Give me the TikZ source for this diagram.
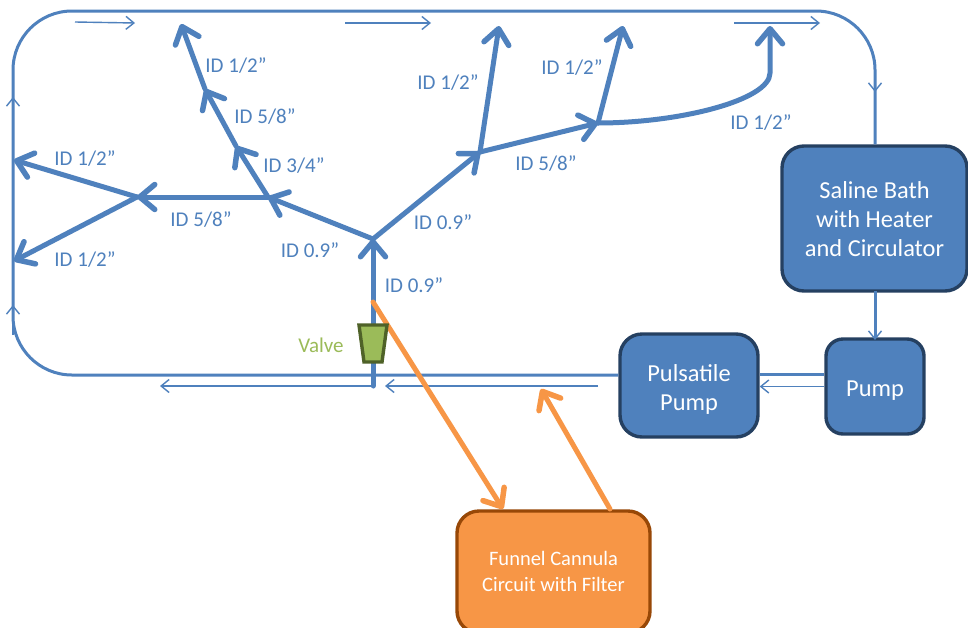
\documentclass[tikz,border=0pt]{standalone}
\usepackage{fontspec}
\setmainfont{Carlito}
\usetikzlibrary{arrows.meta}
\definecolor{flow}{HTML}{4F81BD}
\definecolor{edge}{HTML}{254061}
\definecolor{orng}{HTML}{F79646}
\definecolor{orngdark}{HTML}{984807}
\definecolor{vfill}{HTML}{9BBB59}
\definecolor{vedge}{HTML}{4F6228}
\tikzset{
  pipe/.style={draw=flow,line width=5pt,line cap=round,-{Straight Barb[length=15pt,width=25pt,line width=5.5pt,round]}},
  orangepipe/.style={draw=orng,line width=5pt,line cap=round},
  orangearrow/.style={orangepipe,-{Straight Barb[length=15pt,width=25pt,line width=5.5pt,round]}},
  loopline/.style={draw=flow,line width=3pt},
  flowmark/.style={draw=flow,line width=1.4pt,-{Straight Barb[length=8pt,width=13pt,line width=1.4pt]}},
  box/.style={draw=edge,fill=flow,line width=3.4pt,rounded corners=22pt,text=white,align=center,font=\fontsize{24.4}{29}\selectfont,inner sep=0pt},
  smallbox/.style={box,rounded corners=17pt},
  funnelbox/.style={draw=orngdark,fill=orng,line width=3.4pt,rounded corners=22pt,text=white,align=center,font=\fontsize{20.5}{26}\selectfont,inner sep=0pt},
  pipelabel/.style={text=flow,font=\fontsize{21}{24}\selectfont,inner sep=0pt,yshift=-0.5pt},
  valvelabel/.style={text=vfill,font=\fontsize{21}{24}\selectfont,inner sep=0pt},
  valveshape/.style={draw=vedge,fill=vfill,line width=3.4pt,line join=miter}
}
\begin{document}
\begin{tikzpicture}[x=1pt,y=-1pt]
\useasboundingbox (0,0) rectangle (968,627);
\fill[white] (0,0) rectangle (968,627);
% boxes
\node[box,minimum width=185pt,minimum height=145pt] (bath) at (874.5,218.5) {\rule{0pt}{19pt}Saline Bath\\with Heater\\and Circulator};
\node[box,minimum width=138pt,minimum height=103pt] (pulse) at (689,385.5) {\rule{0pt}{25pt}Pulsatile\\Pump};
\node[smallbox,minimum width=98pt,minimum height=95pt] (pump) at (875,386.5) {\rule{0pt}{24pt}Pump};
\node[funnelbox,minimum width=193pt,minimum height=122pt] (funnel) at (553.5,572) {Funnel Cannula\\Circuit with Filter\rule[-2pt]{0pt}{2pt}};
% coordinates
\coordinate (stemfoot) at (373,386);
\coordinate (j0) at (373,239);
\coordinate (j1) at (268,197);
\coordinate (j2) at (236,146);
\coordinate (j3) at (205,89);
\coordinate (t1) at (181,24);
\coordinate (j4) at (137,197);
\coordinate (t2) at (14,160);
\coordinate (t3) at (14,261);
\coordinate (j5) at (480,152);
\coordinate (j6) at (598,123);
\coordinate (t4) at (499,26);
\coordinate (t5) at (623,26);
\coordinate (t6) at (770,26);
\coordinate (ostart) at (373,302);
% main loop
\draw[loopline] (pulse.west |- 0,375) -- (72,375) arc[start angle=270,end angle=180,radius=59pt] -- (13,70) arc[start angle=180,end angle=90,radius=59pt] -- (816,11) arc[start angle=90,end angle=0,radius=59pt] -- (bath.north -| 875,146);
\draw[loopline] (875,291) -- (875,337);
\draw[loopline] (pump.west |- 0,374) -- (pulse.east |- 0,374);
% small flow marks
\draw[flowmark] (75,22) -- (135,23);
\draw[flowmark] (345,23) -- (431,23);
\draw[flowmark] (734,23) -- (820,23);
\draw[flowmark] (875,60) -- (875,92);
\draw[flowmark] (13,130) -- (13,97);
\draw[flowmark] (13,335) -- (13,305);
\draw[flowmark] (pump.west) -- (pulse.east |- pump.west);
\draw[flowmark] (598,386) -- (385,386);
\draw[flowmark] (stemfoot) -- (160,386);
\draw[flowmark] (875,300) -- (875,340);
% tree
\draw[pipe] (stemfoot) -- (j0);
\draw[pipe] (j0) -- (j1);
\draw[pipe] (j1) -- (j2);
\draw[pipe] (j2) -- (j3);
\draw[pipe] (j3) -- (t1);
\draw[pipe] (j1) -- (j4);
\draw[pipe] (j4) -- (t2);
\draw[pipe] (j4) -- (t3);
\draw[pipe] (j0) -- (j5);
\draw[pipe] (j5) -- (j6);
\draw[pipe] (j5) -- (t4);
\draw[pipe] (j6) -- (t5);
\draw[pipe] (j6) .. controls (680,123) and (770,100) .. (770,73) -- (t6);
% orange
\draw[orangearrow] (ostart) -- (503,509);
\draw[orangearrow] (610,509) -- (541,389);
% valve
\draw[valveshape] (359,325) -- (387,325) -- (382,362) -- (364,362) -- cycle;
\node[valvelabel] (vlabel) at (321,345) {Valve};
% labels
\node[pipelabel] (l1) at (236,65) {ID 1/2”};
\node[pipelabel] (l2) at (265,116) {ID 5/8”};
\node[pipelabel] (l3) at (294,165) {ID 3/4”};
\node[pipelabel] (l4) at (85,158) {ID 1/2”};
\node[pipelabel] (l5) at (201,219) {ID 5/8”};
\node[pipelabel] (l6) at (85,259) {ID 1/2”};
\node[pipelabel] (l7) at (310,250) {ID 0.9”};
\node[pipelabel] (l8) at (414,285) {ID 0.9”};
\node[pipelabel] (l9) at (443,222) {ID 0.9”};
\node[pipelabel] (l10) at (448,82) {ID 1/2”};
\node[pipelabel] (l11) at (546,163) {ID 5/8”};
\node[pipelabel] (l12) at (572,67) {ID 1/2”};
\node[pipelabel] (l13) at (761,122) {ID 1/2”};
\end{tikzpicture}
\end{document}
